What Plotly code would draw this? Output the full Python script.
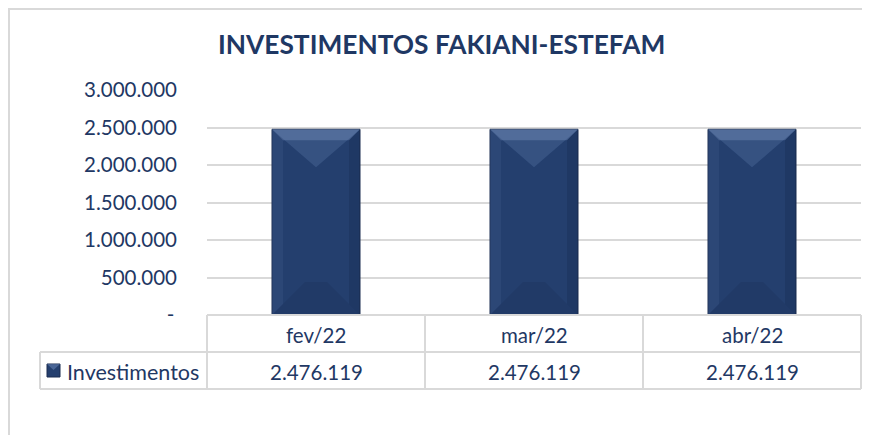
import plotly.graph_objects as go

# ---- data ----
categories = ["fev/22", "mar/22", "abr/22"]
values = [2476119, 2476119, 2476119]
series_name = "Investimentos"
title_text = "INVESTIMENTOS FAKIANI-ESTEFAM"
y_tick_values = [0, 500000, 1000000, 1500000, 2000000, 2500000, 3000000]


def fmt(v):
    return f"{v:,}".replace(",", ".")


y_tick_text = ["-\u2009" if v == 0 else fmt(v) for v in y_tick_values]

# ---- layout constants (target pixels in the browser window) ----
W, H = 870, 435
OFF = 8  # page body margin offset of the plot div
NAVY = "#1f3864"
GRID = "#d9d9d9"
BAR = "#243f6e"
FONT = "Lato"
FS = 20.5

plot_left, plot_right = 207, 861
plot_top, plot_bottom = 90, 315
row1_bottom, row2_bottom = 352, 389
legend_left = 40


def px(x):
    return (x - OFF) / W


def py(y):
    return 1 - (y - OFF) / H


y_max = y_tick_values[-1]
units_per_px = y_max / (plot_bottom - plot_top)
n = len(categories)
x_idx = list(range(n))
bar_width = 88 / ((plot_right - plot_left) / n)

fig = go.Figure()
fig.add_trace(go.Bar(
    x=x_idx, y=values, width=bar_width, name=series_name,
    marker=dict(color=BAR, line=dict(color="#1a2d50", width=1)),
    showlegend=False, hoverinfo="skip",
))

shapes = []
# bevel effect on bars (derived from values)
cat_px = (plot_right - plot_left) / n
for i, v in zip(x_idx, values):
    hw = bar_width / 2
    d_top = 38 * units_per_px
    d_band = 11 * units_per_px
    d_bot = 33 * units_per_px
    s = 11 / cat_px
    shapes.append(dict(type="path", xref="x", yref="y", layer="above",
                       path=f"M {i-hw},{v} L {i+hw},{v} L {i},{v-d_top} Z",
                       fillcolor="rgba(120,150,200,0.22)", line=dict(width=0)))
    shapes.append(dict(type="path", xref="x", yref="y", layer="above",
                       path=f"M {i-hw},{v} L {i+hw},{v} L {i+hw-s},{v-d_band} L {i-hw+s},{v-d_band} Z",
                       fillcolor="rgba(150,175,220,0.28)", line=dict(width=0)))
    shapes.append(dict(type="path", xref="x", yref="y", layer="above",
                       path=f"M {i-hw},0 L {i+hw},0 L {i+hw-d_bot/units_per_px/cat_px},{d_bot} L {i-hw+d_bot/units_per_px/cat_px},{d_bot} Z",
                       fillcolor="rgba(10,20,45,0.10)", line=dict(width=0)))
    shapes.append(dict(type="path", xref="x", yref="y", layer="above",
                       path=f"M {i-hw},0 L {i-hw},{v} L {i-hw+s},{v-d_band} L {i-hw+s},{d_band} Z",
                       fillcolor="rgba(120,150,200,0.10)", line=dict(width=0)))
    shapes.append(dict(type="path", xref="x", yref="y", layer="above",
                       path=f"M {i+hw},0 L {i+hw},{v} L {i+hw-s},{v-d_band} L {i+hw-s},{d_band} Z",
                       fillcolor="rgba(10,20,45,0.15)", line=dict(width=0)))

# outer chart border
shapes.append(dict(type="rect", xref="paper", yref="paper",
                   x0=px(9), x1=px(W + 30), y0=py(H + 30), y1=py(9),
                   line=dict(color=GRID, width=2), fillcolor="rgba(0,0,0,0)", layer="below"))

# data table lines
line_style = dict(color=GRID, width=2)
col_edges = [plot_left + (plot_right - plot_left) * k / n for k in range(n + 1)]
for y, xl in [(plot_bottom, plot_left), (row1_bottom, legend_left), (row2_bottom, legend_left)]:
    shapes.append(dict(type="line", xref="paper", yref="paper",
                       x0=px(xl), x1=px(plot_right), y0=py(y), y1=py(y), line=line_style))
for xe in col_edges:
    shapes.append(dict(type="line", xref="paper", yref="paper",
                       x0=px(xe), x1=px(xe), y0=py(plot_bottom), y1=py(row2_bottom), line=line_style))
shapes.append(dict(type="line", xref="paper", yref="paper",
                   x0=px(legend_left), x1=px(legend_left), y0=py(row1_bottom), y1=py(row2_bottom),
                   line=line_style))

# legend key
shapes.append(dict(type="rect", xref="paper", yref="paper",
                   x0=px(47), x1=px(60), y0=py(377), y1=py(364),
                   fillcolor=BAR, line=dict(color="#1a2d50", width=1)))
shapes.append(dict(type="path", xref="paper", yref="paper",
                   path=f"M {px(47)},{py(364)} L {px(60)},{py(364)} L {px(53.5)},{py(370)} Z",
                   fillcolor="rgba(130,160,210,0.40)", line=dict(width=0)))

annotations = []
annotations.append(dict(text=title_text, xref="paper", yref="paper",
                        x=px(441), y=py(44), xanchor="center", yanchor="middle", showarrow=False,
                        font=dict(family=FONT, size=26.3, color=NAVY, weight="bold")))
row1_mid = (plot_bottom + row1_bottom) / 2
row2_mid = (row1_bottom + row2_bottom) / 2
for i, (c, v) in enumerate(zip(categories, values)):
    annotations.append(dict(text=c, xref="x", yref="paper", x=i, y=py(row1_mid + 1),
                            xanchor="center", yanchor="middle", showarrow=False,
                            font=dict(family=FONT, size=FS, color=NAVY)))
    annotations.append(dict(text=fmt(v), xref="x", yref="paper", x=i, y=py(row2_mid + 1),
                            xanchor="center", yanchor="middle", showarrow=False,
                            font=dict(family=FONT, size=FS, color=NAVY)))
annotations.append(dict(text=series_name, xref="paper", yref="paper", x=px(65), y=py(row2_mid + 1),
                        xanchor="left", yanchor="middle", showarrow=False,
                        font=dict(family=FONT, size=21.5, color=NAVY)))

fig.update_layout(
    width=W, height=H,
    margin=dict(l=0, r=0, t=0, b=0),
    paper_bgcolor="white", plot_bgcolor="white",
    showlegend=False,
    xaxis=dict(domain=[px(plot_left), px(plot_right)], range=[-0.5, n - 0.5],
               showticklabels=False, showgrid=False, zeroline=False, showline=False,
               automargin=False, fixedrange=True),
    yaxis=dict(domain=[py(plot_bottom), py(plot_top)], range=[0, y_max],
               tickvals=y_tick_values, ticktext=y_tick_text,
               showgrid=True, gridcolor=GRID, gridwidth=2, zeroline=False, showline=False,
               ticks="", ticklabelstandoff=29, automargin=False,
               tickfont=dict(family=FONT, size=FS, color=NAVY), fixedrange=True),
    shapes=shapes,
    annotations=annotations,
    font=dict(family=FONT),
)

fig.write_html("out.html")
